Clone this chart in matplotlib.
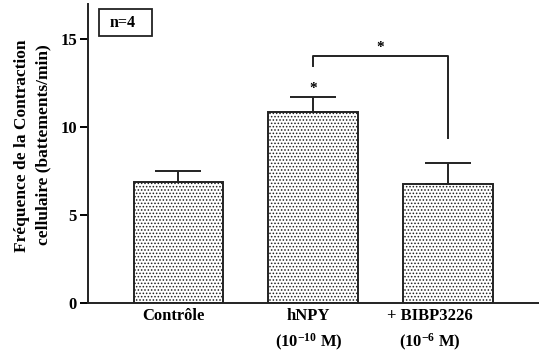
import numpy as np
import matplotlib.pyplot as plt

plt.rcParams['font.family'] = 'Liberation Serif'
plt.rcParams['font.weight'] = 'bold'
plt.rcParams['mathtext.fontset'] = 'custom'
plt.rcParams['mathtext.rm'] = 'Liberation Serif:bold'
plt.rcParams['mathtext.default'] = 'rm'
plt.rcParams['hatch.linewidth'] = 0.7
plt.rcParams['hatch.color'] = '#555555'

names = ["Contrôle", "hNPY", "+ BIBP3226"]
doses = ["", "(10$^{-10}$ M)", "(10$^{-6}$ M)"]
label_x = [-0.037, 0.965, 1.87]
freq = [6.9, 10.85, 6.75]
sem = [0.6, 0.85, 1.2]

fig = plt.figure(figsize=(5.39, 3.53), dpi=100)
ax = fig.add_axes([0.1633, 0.1416, 0.8367, 0.8471])

x = np.arange(len(names))
ax.bar(x, freq, width=0.667, color='white', edgecolor='#222222', linewidth=1.4,
       hatch='.....', zorder=2)
ax.errorbar(x, freq, yerr=[np.zeros(len(sem)), sem], fmt='none', ecolor='#222222',
            elinewidth=1.4, capsize=16.5, capthick=1.4, zorder=3)

# significance marks
ax.text(1, 12.2, '*', ha='center', va='center', fontsize=11)
ax.plot([1, 1, 2, 2], [13.45, 14.02, 14.02, 9.4], color='#222222', lw=1.4)
ax.text(1.5, 14.5, '*', ha='center', va='center', fontsize=11)

ax.set_xlim(-0.672, 2.678)
ax.set_ylim(0, 17)
ax.set_yticks([0, 5, 10, 15])
ax.set_xticks([])
ax.tick_params(axis='y', labelsize=12, length=6, width=1.4, direction='out', pad=2)
for s in ['top', 'right']:
    ax.spines[s].set_visible(False)
for s in ['left', 'bottom']:
    ax.spines[s].set_linewidth(1.4)
    ax.spines[s].set_color('#222222')

# group labels, two lines under the axis
trans = ax.get_xaxis_transform()
for lx, nm, d in zip(label_x, names, doses):
    ax.text(lx, -0.042, nm, transform=trans, ha='center', va='center', fontsize=12)
    if d:
        ax.text(lx, -0.132, d, transform=trans, ha='center', va='center', fontsize=12)

fig.text(22 / 539, 1 - 146 / 353, "Fréquence de la Contraction", rotation=90,
         ha='center', va='center', fontsize=12.5)
fig.text(43 / 539, 1 - 145 / 353, "cellulaire (battements/min)", rotation=90,
         ha='center', va='center', fontsize=12.5)

ax.add_patch(plt.Rectangle((0.0244, 0.893), 0.1175, 0.0903, transform=ax.transAxes,
                           facecolor='white', edgecolor='#222222', lw=1.3, zorder=4))
ax.text(0.0488, 0.938, 'n=4', transform=ax.transAxes, fontsize=11.5, ha='left',
        va='center', zorder=5)

fig.savefig('out.png', dpi=100)
